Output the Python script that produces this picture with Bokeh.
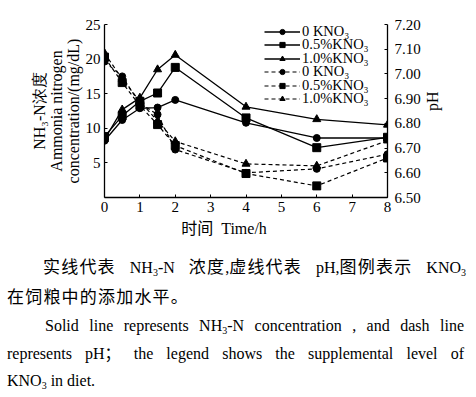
from bokeh.plotting import figure
from bokeh.models import (Range1d, LinearAxis, FixedTicker, Legend, LegendItem,
                          Div, NumeralTickFormatter)
from bokeh.layouts import column
from bokeh.embed import file_html
from bokeh.resources import INLINE
import math

# ---- data ----
time_h = [0, 0.5, 1, 1.5, 2, 4, 6, 8]
nh3_0 = [8.2, 11.2, 12.9, 13.0, 14.1, 10.8, 8.6, 8.6]
nh3_05 = [8.8, 11.8, 13.9, 15.1, 18.8, 11.5, 7.2, 8.7]
nh3_10 = [8.4, 12.7, 14.4, 18.5, 20.6, 13.1, 11.3, 10.5]
ph_0 = [7.05, 6.99, 6.880, 6.836, 6.694, 6.600, 6.616, 6.675]
ph_05 = [7.068, 6.965, 6.872, 6.795, 6.710, 6.597, 6.547, 6.660]
ph_10 = [7.084, 6.980, 6.889, 6.810, 6.727, 6.636, 6.628, 6.730]
series_labels = ["0 KNO\u2083", "0.5%KNO\u2083", "1.0%KNO\u2083"]
markers = ["circle", "square", "triangle"]
marker_sizes = [7, 8, 8]
x_ticks = [0, 1, 2, 3, 4, 5, 6, 7, 8]
left_ticks = [5, 10, 15, 20, 25]
right_ticks = [6.5, 6.6, 6.7, 6.8, 6.9, 7.0, 7.1, 7.2]
y_title = "NH\u2083-N浓度\nAmmonia nitrogen\nconcentration/(mg/dL)"
x_title = "时间&nbsp;&nbsp;Time/h"

SERIF = "Liberation Serif"

p = figure(width=470, height=221, output_backend="svg", toolbar_location=None,
           x_range=Range1d(0, 8), y_range=Range1d(0, 25),
           min_border_left=104, min_border_right=83, min_border_top=24,
           min_border_bottom=24)
p.outline_line_color = None
p.grid.visible = False
p.background_fill_color = "white"
p.extra_y_ranges = {"ph": Range1d(6.5, 7.2)}

def style_axis(ax):
    ax.axis_line_color = "black"
    ax.axis_line_width = 1.3
    ax.major_tick_in = 3
    ax.major_tick_out = 0
    ax.minor_tick_line_color = None
    ax.major_tick_line_color = "black"
    ax.major_label_text_font = SERIF
    ax.major_label_text_font_size = "15px"
    ax.major_label_text_color = "black"
    ax.axis_label_text_font = SERIF
    ax.axis_label_text_font_size = "16px"
    ax.axis_label_text_font_style = "normal"
    ax.axis_label_text_color = "black"

p.xaxis.ticker = FixedTicker(ticks=x_ticks)
p.xaxis.major_label_standoff = 4
p.yaxis.ticker = FixedTicker(ticks=left_ticks)
p.yaxis.major_label_standoff = 4
style_axis(p.xaxis[0])
style_axis(p.yaxis[0])
p.yaxis.axis_label = y_title
p.yaxis.axis_label_standoff = 1
p.yaxis.axis_label_text_line_height = 1.0

rax = LinearAxis(y_range_name="ph", ticker=FixedTicker(ticks=right_ticks),
                 formatter=NumeralTickFormatter(format="0.00"))
style_axis(rax)
rax.major_label_standoff = 7
rax.axis_label = "pH"
rax.axis_label_standoff = 9
rax.axis_label_orientation = math.pi / 2
p.add_layout(rax, "right")

items = []
nh3_all = [nh3_0, nh3_05, nh3_10]
ph_all = [ph_0, ph_05, ph_10]
for i in range(3):
    l = p.line(time_h, nh3_all[i], line_color="black", line_width=1.3)
    s = p.scatter(time_h, nh3_all[i], marker=markers[i], size=marker_sizes[i],
                  fill_color="black", line_color="black")
    items.append(LegendItem(label=series_labels[i], renderers=[l, s]))
for i in range(3):
    l = p.line(time_h, ph_all[i], line_color="black", line_width=1.2,
               line_dash="4 3", y_range_name="ph")
    s = p.scatter(time_h, ph_all[i], marker=markers[i], size=marker_sizes[i],
                  fill_color="black", line_color="black", y_range_name="ph")
    items.append(LegendItem(label=series_labels[i], renderers=[l, s]))

# one legend box per row so rows can sit as tightly as in the reference
row_offsets = [157, 143.6, 130.2, 116.8, 103.4, 90]
for item, yoff in zip(items, row_offsets):
    lg = Legend(items=[item], location=(160, yoff), padding=0, margin=0,
                spacing=0, glyph_width=36, glyph_height=13, label_height=13,
                label_standoff=2, background_fill_alpha=0, border_line_alpha=0,
                label_text_font=SERIF, label_text_font_size="14.5px",
                label_text_color="black")
    p.add_layout(lg)

FONT = "font-family:'Liberation Serif','Noto Sans CJK SC',serif;font-size:16px;color:#000;"
SUB = "<sub style=\"font-size:10px;line-height:0;vertical-align:-3px\">3</sub>"

def cjk(s):
    return f"<span style=\"display:inline-block;font-size:17px;letter-spacing:1.2px\">{s}</span>"

def line_div(top, left, width, html, align):
    if align == "justify":
        a = "text-align:justify;text-align-last:justify;"
    else:
        a = f"text-align:{align};"
    return (f"<div style=\"position:absolute;top:{top}px;left:{left}px;width:{width}px;"
            f"line-height:16px;height:16px;white-space:nowrap;{a}{FONT}\">{html}</div>")

cap = "".join([
    line_div(0, 124, 200, x_title, "center"),
    line_div(39, 43, 423, cjk("实线代表") + " NH" + SUB + "-N " + cjk("浓度") + "," + cjk("虚线代表") + " pH," + cjk("图例表示") + " KNO" + SUB, "justify"),
    line_div(69, 7, 300, cjk("在饲粮中的添加水平。"), "left"),
    line_div(97, 45, 419, "Solid line represents NH" + SUB + "-N concentration , and dash line", "justify"),
    line_div(125, 7, 457, "represents pH； the legend shows the supplemental level of", "justify"),
    line_div(152, 7, 300, "KNO" + SUB + " in diet.", "left"),
])
div = Div(text=f"<div style=\"position:relative;width:470px;height:168px;\">{cap}</div>",
          width=470, height=168, margin=(0, 0, 0, 0))

layout = column(p, div, spacing=0)
open("out.html", "w").write(file_html(layout, INLINE))
